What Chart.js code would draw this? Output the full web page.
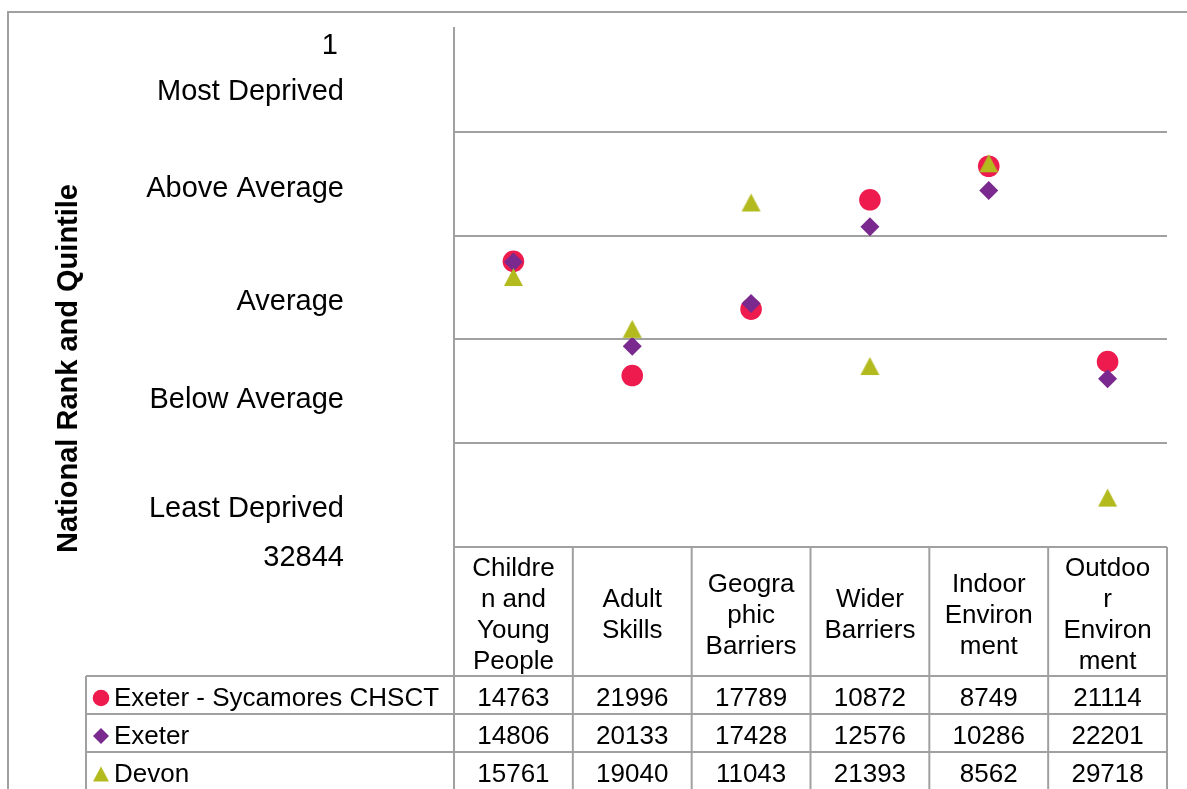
<!DOCTYPE html>
<html><head><meta charset="utf-8">
<script src="https://cdn.jsdelivr.net/npm/chart.js@4.4.1/dist/chart.umd.min.js"></script>
<style>html,body{margin:0;padding:0;background:#fff;overflow:hidden}#wrap{width:1187px;height:789px;position:relative}</style>
</head><body><div id="wrap"><canvas id="c"></canvas></div>
<script>
const categories = [["Childre","n and","Young","People"],["Adult","Skills"],["Geogra","phic","Barriers"],["Wider","Barriers"],["Indoor","Environ","ment"],["Outdoo","r","Environ","ment"]];
const seriesNames = ["Exeter - Sycamores CHSCT","Exeter","Devon"];
const sycamores = [14763,21996,17789,10872,8749,21114];
const exeter = [14806,20133,17428,12576,10286,22201];
const devon = [15761,19040,11043,21393,8562,29718];
const rankMin = 1, rankMax = 32844;
const quintileLabels = ["Most Deprived","Above Average","Average","Below Average","Least Deprived"];
const axisTitle = "National Rank and Quintile";

const colors = ['#EE1B4F','#7A2A8F','#B3BA1E'];
const GRID = '#a0a0a0';
const FONT = '"Liberation Sans", Arial, sans-serif';

function triangleImage(w, h, color) {
  const c = document.createElement('canvas');
  c.width = Math.ceil(w) + 2; c.height = Math.ceil(h) + 2;
  const g = c.getContext('2d');
  const cx = c.width / 2, cy = c.height / 2;
  g.fillStyle = color;
  g.beginPath();
  g.moveTo(cx, cy - h / 2);
  g.lineTo(cx + w / 2, cy + h / 2);
  g.lineTo(cx - w / 2, cy + h / 2);
  g.closePath();
  g.fill();
  return c;
}
const triBig = triangleImage(19, 18, colors[2]);
const triSmall = triangleImage(16, 15, colors[2]);
const styles = ['circle','rectRot',triBig];
const legendStyles = ['circle','rectRot',triSmall];
const radii = [10.8,9.5,10];
const legendRadii = [8.3,8,8];
const seriesData = [sycamores, exeter, devon];

const decor = {
  id:'decor',
  afterDraw(chart){
    const ctx = chart.ctx, a = chart.chartArea, xs = chart.scales.x, ys = chart.scales.y;
    ctx.save();
    // outer frame
    ctx.strokeStyle = GRID; ctx.lineWidth = 2;
    ctx.beginPath(); ctx.moveTo(8, chart.height); ctx.lineTo(8, 12); ctx.lineTo(chart.width, 12); ctx.stroke();

    // y labels
    ctx.fillStyle = '#000'; ctx.textAlign = 'right'; ctx.textBaseline = 'middle';
    ctx.font = '29px ' + FONT;
    const rx = 344;
    ctx.fillText(String(rankMin), rx - 6, ys.getPixelForValue(rankMin) + 18);
    const offs = [12, 5, 14, 9, 14];
    const step = (rankMax - rankMin) / 5;
    quintileLabels.forEach((t, i) => {
      ctx.fillText(t, rx, ys.getPixelForValue(rankMin + step * (i + 0.5)) + offs[i]);
    });
    ctx.fillText(String(rankMax), rx, ys.getPixelForValue(rankMax) + 11);

    // axis title
    ctx.save();
    ctx.translate(69, (a.top + a.bottom) / 2 + 81);
    ctx.rotate(-Math.PI / 2);
    ctx.textAlign = 'center';
    ctx.font = 'bold 29px ' + FONT;
    ctx.fillText(axisTitle, 0, 0);
    ctx.restore();

    // data table
    const n = categories.length, cw = a.width / n;
    const top = a.bottom, headH = 129, rowH = 38, legL = 86;
    ctx.strokeStyle = GRID; ctx.lineWidth = 2;
    const line = (x1, y1, x2, y2) => { ctx.beginPath(); ctx.moveTo(x1, y1); ctx.lineTo(x2, y2); ctx.stroke(); };
    line(a.left, top, a.right, top);
    for (let r = 0; r < seriesData.length; r++) {
      const yy = top + headH + r * rowH;
      line(legL, yy, a.right, yy);
    }
    for (let i = 0; i <= n; i++) {
      const xx = a.left + i * cw;
      line(xx, top, xx, chart.height);
    }
    line(legL, top + headH, legL, chart.height);

    ctx.textAlign = 'center'; ctx.textBaseline = 'middle'; ctx.fillStyle = '#000';
    ctx.font = '26px ' + FONT;
    const lh = 31;
    categories.forEach((lines, i) => {
      const cx = xs.getPixelForValue(i);
      const cy = top + headH / 2 + 4;
      lines.forEach((t, k) => {
        ctx.fillText(t, cx, cy + (k - (lines.length - 1) / 2) * lh);
      });
    });
    seriesData.forEach((vals, r) => {
      const rowMid = top + headH + r * rowH + rowH / 2;
      const cy = rowMid + 4;
      vals.forEach((v, i) => {
        ctx.fillText(String(v), xs.getPixelForValue(i), cy);
      });
      // legend marker + name
      ctx.fillStyle = colors[r];
      Chart.helpers.drawPoint(ctx, {pointStyle: legendStyles[r], radius: legendRadii[r], rotation: 0, borderWidth: 0}, 101, rowMid + 3);
      ctx.fillStyle = '#000';
      ctx.textAlign = 'left';
      ctx.fillText(seriesNames[r], 114, cy);
      ctx.textAlign = 'center';
    });
    ctx.restore();
  }
};

new Chart(document.getElementById('c'), {
  type: 'line',
  data: {
    labels: categories,
    datasets: seriesData.map((d, i) => ({
      label: seriesNames[i],
      data: d,
      showLine: false,
      pointStyle: styles[i],
      pointRadius: radii[i],
      pointHoverRadius: radii[i],
      pointBackgroundColor: colors[i],
      pointBorderWidth: 0,
      backgroundColor: colors[i],
      borderColor: colors[i],
      order: 3 - i
    }))
  },
  options: {
    responsive: true,
    maintainAspectRatio: false,
    animation: false,
    events: [],
    layout: { padding: { left: 454, top: 28, right: 20, bottom: 242 } },
    plugins: { legend: { display: false }, tooltip: { enabled: false } },
    scales: {
      x: { type: 'category', display: false, offset: true },
      y: {
        reverse: true, min: rankMin, max: rankMax,
        afterBuildTicks(scale) {
          scale.ticks = [0,1,2,3,4,5].map(i => ({ value: rankMin + i * (rankMax - rankMin) / 5 }));
        },
        afterFit(scale) { scale.width = 0; },
        ticks: { display: false },
        grid: {
          drawTicks: false,
          lineWidth: 2,
          color: (c) => (c.index === 0 || c.index === 5) ? 'rgba(0,0,0,0)' : GRID
        },
        border: { display: true, color: GRID, width: 2 }
      }
    }
  },
  plugins: [decor]
});
</script>
</body></html>
